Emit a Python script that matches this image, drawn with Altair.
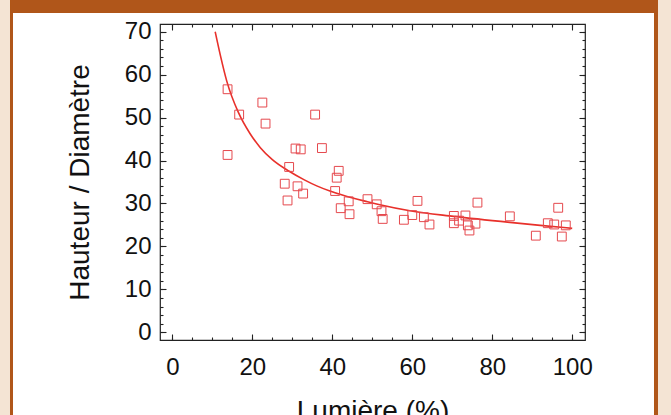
import altair as alt
import pandas as pd

# ---- data ----
lumiere = [13.8, 13.8, 16.7, 22.5, 23.3, 28.1, 28.8, 29.2, 30.8, 31.3,
           32.1, 32.7, 35.7, 37.4, 40.7, 41.1, 41.6, 42.1, 44.1, 44.3,
           48.8, 51.1, 52.3, 52.6, 57.9, 60.0, 61.3, 62.9, 64.3, 70.4,
           70.4, 71.7, 73.3, 73.9, 74.3, 75.8, 76.3, 84.4, 90.9, 93.9,
           95.5, 96.5, 97.4, 98.4]
ratio = [56.6, 41.3, 50.7, 53.5, 48.6, 34.6, 30.7, 38.5, 42.8, 34.0,
         42.6, 32.3, 50.7, 42.9, 32.9, 36.0, 37.6, 28.9, 30.5, 27.5,
         31.0, 29.8, 28.2, 26.4, 26.2, 27.3, 30.6, 26.8, 25.1, 27.1,
         25.4, 26.0, 27.2, 24.9, 23.7, 25.3, 30.2, 27.0, 22.5, 25.4,
         25.1, 29.0, 22.3, 24.9]

curve_x = [10.7, 12.0, 13.6, 16.5, 19.4, 22.0, 25.0, 29.2, 33.0, 36.1,
           39.4, 42.7, 48.8, 51.9, 59.4, 70.4, 84.4, 92.0, 100.0]
curve_y = [70.0, 64.5, 58.5, 51.2, 46.3, 43.0, 40.2, 37.5, 35.5, 34.1,
           32.9, 31.9, 30.4, 29.7, 28.3, 27.0, 25.6, 24.9, 24.2]

x_major = [0, 20, 40, 60, 80, 100]
x_minor = [0, 5, 10, 15, 20, 25, 30, 35, 40, 45, 50, 55, 60, 65, 70, 75,
           80, 85, 90, 95, 100]
y_major = [0, 10, 20, 30, 40, 50, 60, 70]
y_minor = list(range(0, 71, 2))

x_title = "Lumière (%)"
y_title = "Hauteur / Diamètre"

# ---- styling ----
W, H = 425, 316
PAD_L, PAD_T = 160, 24
BEIGE = "#f4e4d4"
ORANGE = "#b0561a"
INK = "#222222"
FONT = "Liberation Sans"

df_pts = pd.DataFrame({"lumiere": lumiere, "ratio": ratio})
df_curve = pd.DataFrame({"cx": curve_x, "cy": curve_y})

XS = alt.Scale(domain=[-3.1, 103.2], nice=False, zero=False)
YS = alt.Scale(domain=[-1.8, 71.8], nice=False, zero=False)


def ax(orient, values, size, labels, title=None, pad=0, tpad=0):
    kw = dict(orient=orient, values=values, tickSize=size, offset=-size,
              domain=False, grid=False, labels=labels, zindex=1,
              tickColor=INK, tickWidth=1.1, title=title)
    if labels:
        kw.update(labelFont=FONT, labelFontSize=24, labelColor="#111",
                  labelPadding=pad, labelFlush=False, labelOverlap=False)
    if title:
        kw.update(titleFont=FONT, titleFontSize=28, titleFontWeight="normal",
                  titleColor="#111", titlePadding=tpad)
    return alt.Axis(**kw)


# decorations (page frame)
def rect(x0, x1, y0, y1, color):
    return alt.Chart(df_curve).mark_rect(color=color).encode(
        x=alt.value(x0), x2=alt.value(x1), y=alt.value(y0), y2=alt.value(y1))

deco = [
    rect(-PAD_L, -149.3, -PAD_T, 415 - PAD_T, BEIGE),
    rect(497.7, 671 - PAD_L, -PAD_T, 415 - PAD_T, BEIGE),
    rect(-149.3, -147.2, -PAD_T, 415 - PAD_T, ORANGE),
    rect(494.7, 497.7, -PAD_T, 415 - PAD_T, ORANGE),
    rect(-149.3, 497.7, -PAD_T, 12.7 - PAD_T, ORANGE),
]

minor_bl = alt.Chart(df_pts).mark_point(opacity=0).encode(
    x=alt.X("lumiere:Q", scale=XS, axis=ax("bottom", x_minor, 3, False)),
    y=alt.Y("ratio:Q", scale=YS, axis=ax("left", y_minor, 3, False)),
)
minor_tr = alt.Chart(df_pts).mark_point(opacity=0).encode(
    x=alt.X("lumiere:Q", scale=XS, axis=ax("top", x_minor, 3, False)),
    y=alt.Y("ratio:Q", scale=YS, axis=ax("right", y_minor, 3, False)),
)
curve = alt.Chart(df_curve).mark_line(
    color="#e8302a", strokeWidth=1.6, interpolate="monotone").encode(
    x=alt.X("cx:Q", scale=XS, axis=ax("top", x_major, 6, False)),
    y=alt.Y("cy:Q", scale=YS, axis=ax("right", y_major, 6, False)),
)
pts = alt.Chart(df_pts).mark_point(
    shape="square", size=78, filled=False, color="#e5484d",
    strokeWidth=1, opacity=1).encode(
    x=alt.X("lumiere:Q", scale=XS,
            axis=ax("bottom", x_major, 6, True, x_title, 15, 18)),
    y=alt.Y("ratio:Q", scale=YS,
            axis=ax("left", y_major, 6, True, y_title, 9, 30)),
)

chart = alt.layer(*deco, minor_bl, minor_tr, curve, pts).resolve_axis(
    x="independent", y="independent"
).properties(
    width=W, height=H,
    autosize=alt.AutoSizeParams(type="none"),
    padding={"left": PAD_L, "top": PAD_T, "right": 671 - PAD_L - W,
             "bottom": 415 - PAD_T - H},
    background="white",
).configure_view(stroke=INK, strokeWidth=1.2)

chart.save("out.html", embed_options={"renderer": "svg", "actions": False})
